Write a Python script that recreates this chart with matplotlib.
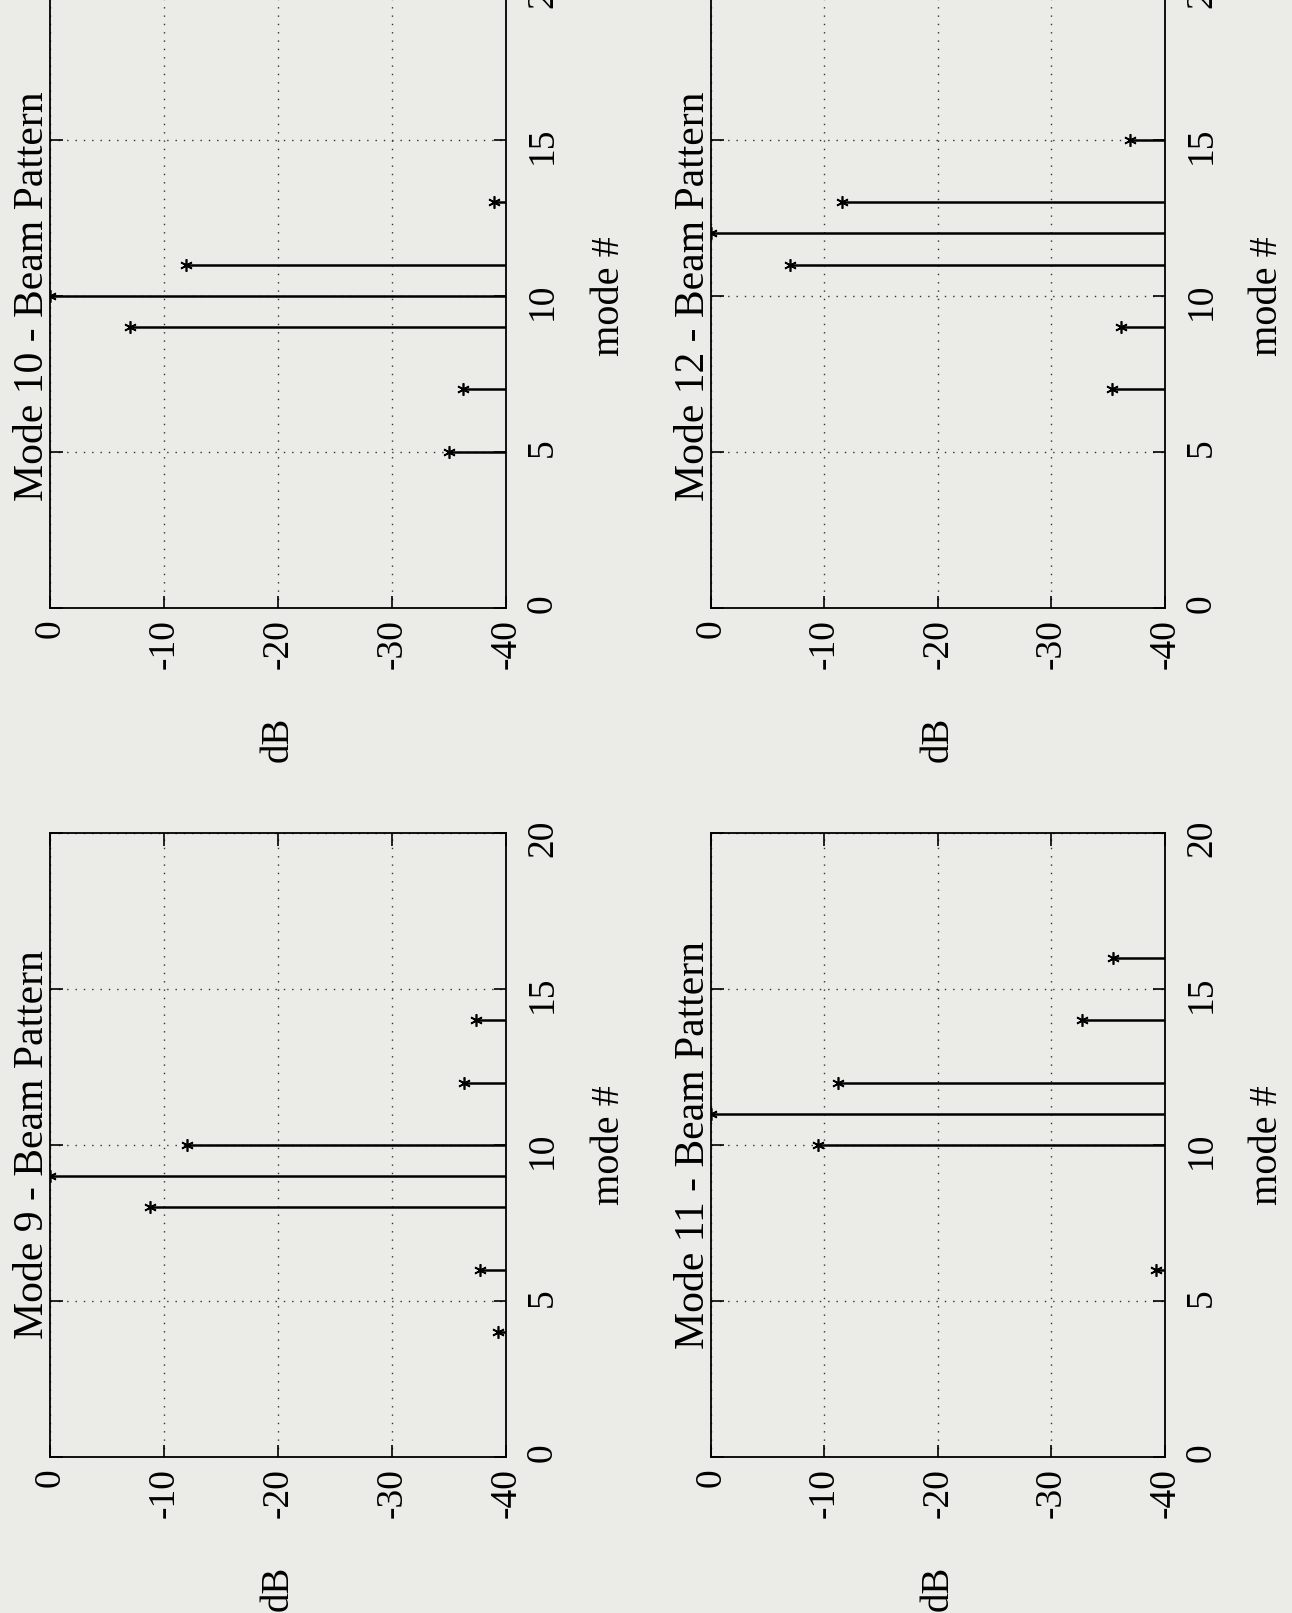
import matplotlib.pyplot as plt

# beam patterns (dB, values below -40 are not drawn)
mode9_modes = [4, 6, 8, 9, 10, 12, 14]
mode9_db = [-39.3, -37.7, -8.8, 0.0, -12.0, -36.3, -37.4]

mode10_modes = [5, 7, 9, 10, 11, 13]
mode10_db = [-35.0, -36.2, -7.0, 0.0, -11.9, -38.9]

mode11_modes = [6, 10, 11, 12, 14, 16]
mode11_db = [-39.2, -9.4, 0.0, -11.2, -32.7, -35.4]

mode12_modes = [7, 9, 11, 12, 13, 15]
mode12_db = [-35.3, -36.1, -7.0, 0.0, -11.5, -36.9]

db_ticks = [0, -10, -20, -30, -40]
mode_ticks = [0, 5, 10, 15, 20]

plt.rcParams['font.family'] = ['Liberation Serif', 'DejaVu Serif']
bg = '#ebebe7'

fig = plt.figure(figsize=(12.92, 16.13), dpi=100, facecolor=bg)

# page is rotated: dB runs left->right (0 to -40), mode # runs bottom->top
panels = [
    ('Mode 10 - Beam Pattern', mode10_modes, mode10_db, [0.0387, 0.6231, 0.353, 0.3870]),
    ('Mode 12 - Beam Pattern', mode12_modes, mode12_db, [0.5503, 0.6231, 0.3514, 0.3870]),
    ('Mode 9 - Beam Pattern', mode9_modes, mode9_db, [0.0387, 0.0967, 0.353, 0.3869]),
    ('Mode 11 - Beam Pattern', mode11_modes, mode11_db, [0.5503, 0.0967, 0.3514, 0.3869]),
]

asterisk = (6, 2, 0)

for title, modes, db, rect in panels:
    ax = fig.add_axes(rect)
    ax.set_facecolor(bg)
    ax.set_xlim(0, -40)
    ax.set_ylim(0, 20)

    ax.hlines(modes, -40, db, color='black', linewidth=1.8)
    ax.plot(db, modes, linestyle='none', marker=asterisk, markersize=9,
            markeredgewidth=1.2, color='black')

    ax.set_xticks(db_ticks)
    ax.set_xticklabels([str(t) for t in db_ticks])
    ax.set_yticks(mode_ticks)
    ax.set_yticklabels([str(t) for t in mode_ticks])
    ax.grid(True, linestyle=(0, (1, 5)), color='0.2', linewidth=1.0)

    ax.tick_params(direction='in', length=9, width=1.2, top=True, right=True,
                   labelleft=False, labelright=True, labelsize=27)
    ax.tick_params(axis='x', labelrotation=90, pad=8)
    ax.tick_params(axis='y', labelrotation=90, pad=14)
    for s in ax.spines.values():
        s.set_linewidth(1.3)

    ax.set_xlabel('dB', fontsize=28, rotation=90)
    ax.xaxis.label.set_va('center')
    ax.xaxis.set_label_coords(0.5, -0.21)
    ax.set_ylabel('mode #', fontsize=29, rotation=90)
    ax.yaxis.set_label_position('right')
    ax.yaxis.label.set_va('center')
    ax.yaxis.set_label_coords(1.226, 0.5)

    ax.text(-0.037, 0.5, title, transform=ax.transAxes, rotation=90,
            ha='center', va='center', fontsize=30)

fig.savefig('out.png', dpi=100, facecolor=bg)
